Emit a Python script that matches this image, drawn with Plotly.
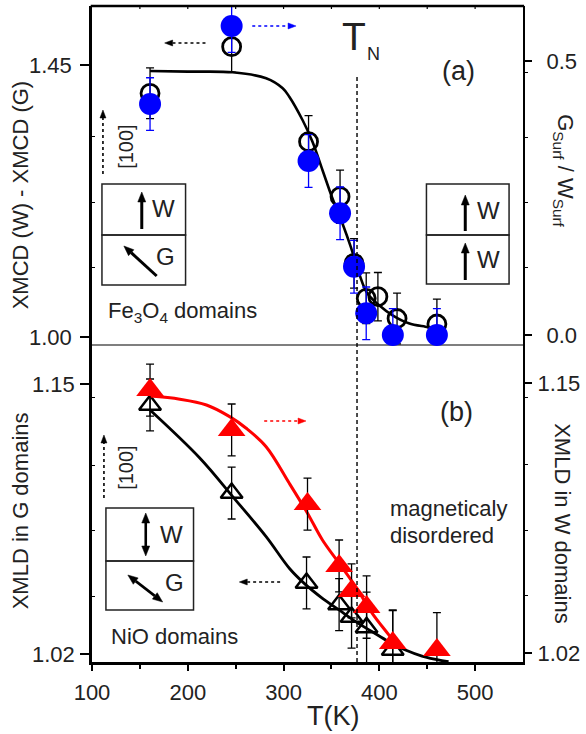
import math
import plotly.graph_objects as go

# ---------------- data ----------------
# panel (a): Fe3O4 domains
T_xmcd = [160.6, 245.8, 326.1, 359.0, 373.6, 386.3, 398.5, 418.5, 460.1]
xmcd_diff = [1.4032, 1.4803, 1.3231, 1.2321, 1.1219, 1.0640, 1.0667, 1.0306, 1.0215]
xmcd_err = [0.042, 0.042, 0.043, 0.044, 0.041, 0.042, 0.040, 0.042, 0.041]

T_ratio = [160.6, 245.8, 326.1, 359.0, 373.6, 386.3, 414.1, 460.1]
g_over_w = [0.4215, 0.5639, 0.3175, 0.2221, 0.1246, 0.0396, 0.0, 0.0]
ratio_err = [0.048, 0.048, 0.048, 0.048, 0.048, 0.048, 0.048, 0.048]

fit_a_T = [160.6, 200.0, 246.8, 281.8, 299.1, 306.0, 319.8, 330.2, 340.6, 351.0,
           361.4, 370.1, 378.8, 387.4, 399.5, 413.4, 430.7, 448.0, 458.4]
fit_a_v = [1.4401, 1.4390, 1.4379, 1.4280, 1.4115, 1.3976, 1.3590, 1.3231, 1.2763, 1.2295,
           1.1881, 1.1494, 1.1054, 1.0723, 1.0529, 1.0363, 1.0227, 1.0170, 1.0144]

# panel (b): NiO domains
T_xmld_g = [160.6, 245.8, 324.0, 358.0, 371.0, 386.7, 414.0]
xmld_g = [1.1399, 1.0975, 1.0542, 1.0438, 1.0378, 1.0328, 1.0219]
xmld_g_err = [0.0125, 0.0125, 0.0125, 0.0125, 0.015, 0.017, 0.019]

T_xmld_w = [160.6, 245.8, 325.0, 358.0, 371.0, 386.7, 414.0, 460.1]
xmld_w = [1.1466, 1.1274, 1.0917, 1.0619, 1.0499, 1.0421, 1.0248, 1.0214]
xmld_w_err = [0.0125, 0.0125, 0.0125, 0.0125, 0.013, 0.015, 0.016, 0.018]

fit_g_T = [160.6, 212.5, 247.1, 281.8, 306.0, 321.6, 340.6, 358.0, 375.3, 392.6,
           409.9, 427.3, 444.5, 465.3, 472.3]
fit_g_v = [1.1375, 1.1144, 1.0957, 1.0765, 1.0613, 1.0540, 1.0468, 1.0412, 1.0356, 1.0307,
           1.0259, 1.0219, 1.0190, 1.0168, 1.0163]

fit_w_T = [160.6, 191.7, 219.5, 243.7, 261.0, 281.8, 306.0, 325.0, 340.6, 358.0,
           375.3, 392.6, 409.9, 420.3]
fit_w_v = [1.1437, 1.1422, 1.1394, 1.1338, 1.1282, 1.1193, 1.1017, 1.0873, 1.0744, 1.0632,
           1.0519, 1.0391, 1.0287, 1.0224]

T_neel = 376.7

x_major = [100, 200, 300, 400, 500]
x_labels = ["100", "200", "300", "400", "500"]
x_minor = [150, 250, 350, 450]
x_top_ticks = [150, 200, 250, 300, 350, 400, 450, 500]

ya_ticks = [1.00, 1.45]
ya_labels = ["1.00", "1.45"]
ya_minor = [1.1142, 1.2233, 1.3309]
ya2_ticks = [0.0, 0.5]
ya2_labels = ["0.0", "0.5"]
ya2_minor = [0.1223, 0.2409, 0.3613, 0.4799]
yb_ticks = [1.02, 1.15]
yb_labels = ["1.02", "1.15"]
yb_minor = [1.0479, 1.0797, 1.111, 1.1433]
yb2_minor = [1.0479, 1.0792, 1.111, 1.1428]

# ---------------- geometry helpers ----------------
W, H = 586, 734
ML, MR, MT, MB = 92, 61, 6, 72
PW = W - ML - MR
PH = H - MT - MB


def PX(px):
    return (px - ML) / PW


def PY(py):
    return (H - MB - py) / PH


split = PY(345)
FONT = "Liberation Sans, Arial, sans-serif"
TXT = "#222222"

fig = go.Figure()

# ---- panel (a)
fig.add_trace(go.Scatter(x=fit_a_T, y=fit_a_v, xaxis="x2", yaxis="y", mode="lines",
                         line=dict(color="black", width=2.6, shape="spline"), hoverinfo="skip"))
fig.add_trace(go.Scatter(x=T_xmcd, y=xmcd_diff, xaxis="x2", yaxis="y", mode="markers",
                         marker=dict(symbol="circle-open", size=18, color="black", line=dict(width=2.8)),
                         error_y=dict(type="data", array=xmcd_err, color="black", thickness=1.3, width=4),
                         cliponaxis=False))
fig.add_trace(go.Scatter(x=T_ratio, y=g_over_w, xaxis="x2", yaxis="y2", mode="markers",
                         marker=dict(symbol="circle", size=22, color="#0000ff"),
                         error_y=dict(type="data", array=ratio_err, color="#0000ff", thickness=1.3, width=4),
                         cliponaxis=False))

# ---- panel (b)
fig.add_trace(go.Scatter(x=fit_g_T, y=fit_g_v, xaxis="x", yaxis="y3", mode="lines",
                         line=dict(color="black", width=2.8, shape="spline"), hoverinfo="skip"))
fig.add_trace(go.Scatter(x=T_xmld_g, y=xmld_g, xaxis="x", yaxis="y3", mode="markers",
                         marker=dict(symbol="triangle-up-open", size=19, color="black", line=dict(width=2.5)),
                         error_y=dict(type="data", array=xmld_g_err, color="black", thickness=1.3, width=4)))
fig.add_trace(go.Scatter(x=fit_w_T, y=fit_w_v, xaxis="x", yaxis="y4", mode="lines",
                         line=dict(color="#ff0000", width=3, shape="spline"), hoverinfo="skip"))
fig.add_trace(go.Scatter(x=T_xmld_w, y=xmld_w, xaxis="x", yaxis="y4", mode="markers",
                         marker=dict(symbol="triangle-up", size=24, color="#ff0000"),
                         error_y=dict(type="data", array=xmld_w_err, color="black", thickness=1.3, width=4)))

tickfont = dict(family=FONT, size=22, color=TXT)
common = dict(showgrid=False, zeroline=False, linecolor="black", tickcolor="black", tickfont=tickfont)

fig.update_layout(
    width=W, height=H, margin=dict(l=ML, r=MR, t=MT, b=MB),
    paper_bgcolor="white", plot_bgcolor="white", showlegend=False,
    font=dict(family=FONT, color=TXT),
    xaxis=dict(common, domain=[0, 1], anchor="y3", range=[100, 550], showline=True, linewidth=2.7,
               ticks="outside", ticklen=6, tickwidth=1.5, tickvals=x_major, ticktext=x_labels,
               ticklabelstandoff=3,
               minor=dict(tickvals=x_minor, ticks="outside", ticklen=4, tickwidth=1.5, tickcolor="black")),
    xaxis2=dict(domain=[0, 1], anchor="y", range=[100, 550], visible=False),
    yaxis=dict(common, domain=[split, 1], anchor="x2", range=[0.98676, 1.5476], showline=True,
               linewidth=2.7, ticks="outside", ticklen=9, tickwidth=1.5, tickvals=ya_ticks,
               ticktext=ya_labels, ticklabelstandoff=4,
               minor=dict(tickvals=ya_minor, ticks="inside", ticklen=3, tickwidth=1.2, tickcolor="black")),
    yaxis2=dict(common, overlaying="y", side="right", anchor="x2", range=[-0.01825, 0.6004],
                showline=True, linewidth=2.2, ticks="outside", ticklen=7, tickwidth=1.5,
                tickvals=ya2_ticks, ticktext=ya2_labels, ticklabelstandoff=10,
                minor=dict(tickvals=ya2_minor, ticks="outside", ticklen=3, tickwidth=1.2, tickcolor="black")),
    yaxis3=dict(common, domain=[0, split], anchor="x", range=[1.01615, 1.16878], showline=True,
                linewidth=2.7, ticks="outside", ticklen=9, tickwidth=1.5, tickvals=yb_ticks,
                ticktext=yb_labels, ticklabelstandoff=1,
                minor=dict(tickvals=yb_minor, ticks="inside", ticklen=3, tickwidth=1.2, tickcolor="black")),
    yaxis4=dict(common, overlaying="y3", side="right", anchor="x", range=[1.01567, 1.1683],
                showline=True, linewidth=2.2, ticks="outside", ticklen=7, tickwidth=1.5,
                tickvals=yb_ticks, ticktext=yb_labels, ticklabelstandoff=1,
                minor=dict(tickvals=yb2_minor, ticks="outside", ticklen=3, tickwidth=1.2, tickcolor="black")),
)

shapes = []
# separator line between panels
shapes.append(dict(type="line", xref="paper", yref="paper", x0=0, x1=1, y0=split, y1=split,
                   line=dict(color="#555555", width=1.6), layer="below"))
# hide the part of the error bar that would stick out above the frame
shapes.append(dict(type="rect", xref="paper", yref="paper", x0=PX(200), x1=PX(260), y0=PY(4.6), y1=PY(-4),
                   fillcolor="white", line=dict(width=0), layer="above"))
# top frame line with short inward ticks
shapes.append(dict(type="line", xref="paper", yref="paper", x0=PX(ML - 1.3), x1=PX(ML + PW + 1.1),
                   y0=1, y1=1, line=dict(color="black", width=2.7)))
for tv in x_top_ticks:
    shapes.append(dict(type="line", xref="x", yref="paper", x0=tv, x1=tv, y0=PY(6), y1=PY(9),
                       line=dict(color="black", width=1.2)))
# Neel temperature dashed line
shapes.append(dict(type="line", xref="x", yref="paper", x0=T_neel, x1=T_neel, y0=0, y1=PY(75),
                   line=dict(color="black", width=1.4, dash="4px,3px")))


def box(x0, x1, y0, y1):
    shapes.append(dict(type="rect", xref="paper", yref="paper", x0=PX(x0), x1=PX(x1), y0=PY(y1), y1=PY(y0),
                       line=dict(color="#222222", width=1.5)))


box(102, 186, 184, 235)
box(102, 186, 235, 285)
box(428, 511, 184, 235)
box(428, 511, 235, 284)
box(106, 194, 508, 561)
box(106, 194, 561, 610)


def head(tipx, tipy, fromx, fromy, L, w, color):
    dx, dy = tipx - fromx, tipy - fromy
    n = math.hypot(dx, dy)
    ux, uy = dx / n, dy / n
    bx, by = tipx - L * ux, tipy - L * uy
    p1 = (bx - w * uy, by + w * ux)
    p2 = (bx + w * uy, by - w * ux)
    path = "M {:.5f} {:.5f} L {:.5f} {:.5f} L {:.5f} {:.5f} Z".format(
        PX(tipx), PY(tipy), PX(p1[0]), PY(p1[1]), PX(p2[0]), PY(p2[1]))
    shapes.append(dict(type="path", xref="paper", yref="paper", path=path,
                       fillcolor=color, line=dict(color=color, width=0.5)))
    return bx, by


def seg(x0, y0, x1, y1, color, width, dash="solid"):
    shapes.append(dict(type="line", xref="paper", yref="paper", x0=PX(x0), x1=PX(x1), y0=PY(y0), y1=PY(y1),
                       line=dict(color=color, width=width, dash=dash)))


def solid_arrow(tailx, taily, tipx, tipy, both=False, width=3, L=10, w=4):
    bx, by = head(tipx, tipy, tailx, taily, L, w, "black")
    sx, sy = tailx, taily
    if both:
        sx, sy = head(tailx, taily, tipx, tipy, L, w, "black")
    seg(sx, sy, bx, by, "black", width)


def dotted_arrow(tailx, taily, tipx, tipy, color):
    bx, by = head(tipx, tipy, tailx, taily, 8, 3, color)
    seg(tailx, taily, bx, by, color, 1.6, "dot")


# dotted direction arrows
dotted_arrow(206, 43, 165, 43, "black")
dotted_arrow(253, 26, 297, 26, "#0000ff")
dotted_arrow(265, 421, 307, 421, "#ff0000")
dotted_arrow(281, 582, 240, 582, "black")
dotted_arrow(103, 174, 103, 110, "black")
dotted_arrow(104, 498, 104, 435, "black")

# inset spin arrows
solid_arrow(142, 229, 142, 192)
solid_arrow(157, 276, 124, 246)
solid_arrow(467, 231, 467, 195)
solid_arrow(467, 280, 467, 243)
solid_arrow(146, 556, 146, 513, both=True, width=2.6)
solid_arrow(128, 575, 163, 602, both=True, width=2.6)

fig.update_layout(shapes=shapes)

ann = []


def text(t, px, py, size, angle=0, xanchor="center", color=TXT):
    ann.append(dict(text=t, x=PX(px), y=PY(py), xref="paper", yref="paper", showarrow=False,
                    textangle=angle, xanchor=xanchor, yanchor="middle",
                    font=dict(family=FONT, size=size, color=color)))


# axis titles
text("XMCD (W) - XMCD (G)", 20, 195, 22, angle=-90)
text("XMLD in G domains", 20, 511, 22, angle=-90)
text("G<sub>Surf</sub> / W<sub>Surf</sub>", 566, 171, 22, angle=90)
text("XMLD in W domains", 565, 524, 22, angle=90)
text("T(K)", 334.5, 716, 27)

# labels
text("T", 355, 37, 39)
text("N", 375, 54, 18)
text("(a)", 460, 71, 27)
text("(b)", 458, 412, 27)
text("Fe<sub>3</sub>O<sub>4</sub> domains", 106, 312, 22, xanchor="left")
text("NiO domains", 109, 636, 22, xanchor="left")
text("magneticaly", 389, 508, 22, xanchor="left")
text("disordered", 389, 535, 22, xanchor="left")
text("[100]", 126, 147, 20, angle=-90)
text("[100]", 126, 468, 20, angle=-90)

# inset labels
text("W", 164, 208, 24)
text("G", 166, 256, 24)
text("W", 490, 210, 24)
text("W", 490, 259, 24)
text("W", 172, 534, 24)
text("G", 175, 582, 24)

fig.update_layout(annotations=ann)

fig.write_html("out.html")
